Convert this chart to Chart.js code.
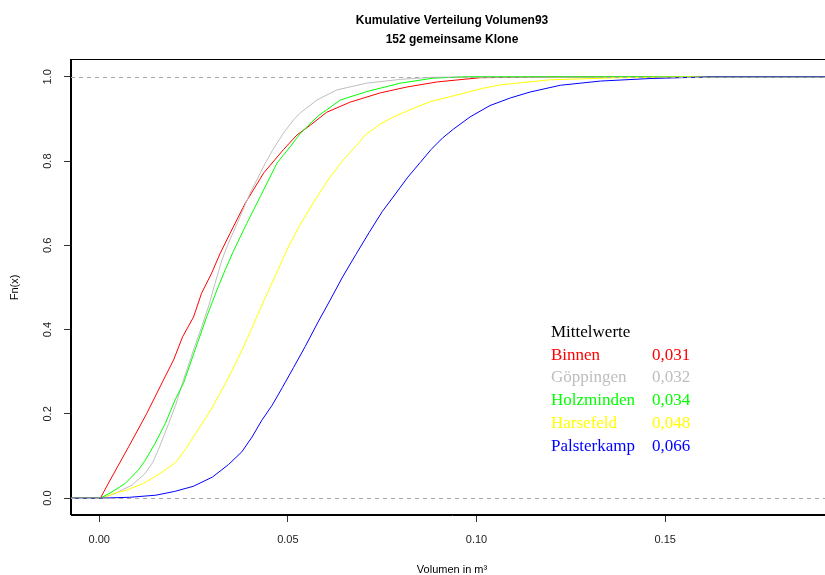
<!DOCTYPE html>
<html>
<head>
<meta charset="utf-8">
<title>Kumulative Verteilung Volumen93</title>
<script src="https://cdn.jsdelivr.net/npm/chart.js@4.4.1/dist/chart.umd.min.js"></script>
<style>
  html, body { margin: 0; padding: 0; background: #fff; overflow: hidden; }
  #wrap { width: 834px; height: 575px; }
</style>
</head>
<body>
<div id="wrap"><canvas id="ecdf" width="834" height="575"></canvas></div>
<script>
// Empirische Verteilungsfunktionen (152 gemeinsame Klone), Volumen in m³

const xTicks = [0, 0.05, 0.10, 0.15];
const xTickLabels = ['0.00', '0.05', '0.10', '0.15'];
const yTicks = [0, 0.2, 0.4, 0.6, 0.8, 1.0];
const yTickLabels = ['0.0', '0.2', '0.4', '0.6', '0.8', '1.0'];

const groups = ['Binnen', 'Göppingen', 'Holzminden', 'Harsefeld', 'Palsterkamp'];
const groupColors = ['#ff0000', '#bebebe', '#00ff00', '#ffff00', '#0000ff'];
const groupMeans = [0.031, 0.032, 0.034, 0.048, 0.066];

// Datenbereich der Achsen (R erweitert um je 4 %)
const xRange = [0, 0.187];
const yRange = [0, 1];

const binnenX = [0.0003, 0.0029, 0.0078, 0.0126, 0.0170, 0.0197, 0.0221, 0.0250, 0.0271, 0.0298, 0.0320,
  0.0347, 0.0387, 0.0436, 0.0488, 0.0524, 0.0559, 0.0603, 0.0665, 0.0745, 0.0816, 0.0896, 0.1010, 0.1220];
const binnenF = [0, 0.043, 0.122, 0.201, 0.280, 0.328, 0.383, 0.430, 0.486, 0.534, 0.580,
  0.629, 0.700, 0.772, 0.827, 0.862, 0.885, 0.916, 0.940, 0.962, 0.976, 0.988, 0.998, 1.0];

const goeppingenX = [0.0003, 0.0042, 0.0087, 0.0120, 0.0142, 0.0160, 0.0184, 0.0203, 0.0223, 0.0250, 0.0273,
  0.0290, 0.0307, 0.0325, 0.0340, 0.0367, 0.0400, 0.0440, 0.0460, 0.0488, 0.0515, 0.0535, 0.0577, 0.0630,
  0.0709, 0.0798, 0.0885, 0.0983];
const goeppingenF = [0, 0.011, 0.031, 0.057, 0.085, 0.122, 0.177, 0.222, 0.280, 0.352, 0.410,
  0.456, 0.510, 0.565, 0.600, 0.655, 0.724, 0.795, 0.827, 0.866, 0.898, 0.916, 0.945, 0.969,
  0.985, 0.994, 0.999, 1.0];

const holzmindenX = [0.0003, 0.0034, 0.0069, 0.0104, 0.0122, 0.0148, 0.0175, 0.0201, 0.0223, 0.0254, 0.0285,
  0.0312, 0.0333, 0.0355, 0.0391, 0.0427, 0.0471, 0.0506, 0.0533, 0.0580, 0.0639, 0.0709, 0.0798, 0.0886, 0.0974];
const holzmindenF = [0, 0.015, 0.035, 0.067, 0.090, 0.130, 0.177, 0.233, 0.272, 0.352, 0.431,
  0.494, 0.540, 0.585, 0.652, 0.716, 0.795, 0.834, 0.866, 0.907, 0.945, 0.965, 0.985, 0.997, 1.0];

const harsefeldX = [0.0010, 0.0038, 0.0073, 0.0117, 0.0162, 0.0204, 0.0230, 0.0256, 0.0290, 0.0318, 0.0343,
  0.0368, 0.0394, 0.0418, 0.0444, 0.0468, 0.0497, 0.0533, 0.0570, 0.0610, 0.0647, 0.0683, 0.0705, 0.0745,
  0.0780, 0.0824, 0.0877, 0.0948, 0.1018, 0.1063, 0.1195, 0.1380, 0.1590];
const harsefeldF = [0, 0.011, 0.019, 0.035, 0.059, 0.086, 0.118, 0.154, 0.201, 0.245, 0.287,
  0.332, 0.382, 0.431, 0.484, 0.530, 0.589, 0.650, 0.705, 0.760, 0.803, 0.838, 0.862, 0.888,
  0.905, 0.922, 0.941, 0.957, 0.973, 0.981, 0.993, 0.998, 1.0];

const palsterkampX = [0.0003, 0.0080, 0.0150, 0.0200, 0.0249, 0.0300, 0.0343, 0.0378, 0.0405, 0.0431, 0.0458,
  0.0485, 0.0515, 0.0546, 0.0580, 0.0612, 0.0645, 0.0680, 0.0715, 0.0750, 0.0785, 0.0818, 0.0851, 0.0880,
  0.0910, 0.0939, 0.0983, 0.1036, 0.1090, 0.1142, 0.1222, 0.1328, 0.1460, 0.1620];
const palsterkampF = [0, 0.002, 0.007, 0.016, 0.028, 0.050, 0.080, 0.110, 0.145, 0.185, 0.220,
  0.262, 0.310, 0.360, 0.418, 0.470, 0.525, 0.578, 0.630, 0.680, 0.722, 0.762, 0.797, 0.828,
  0.855, 0.876, 0.905, 0.932, 0.950, 0.964, 0.980, 0.990, 0.996, 1.0];

const seriesX = [binnenX, goeppingenX, holzmindenX, harsefeldX, palsterkampX];
const seriesF = [binnenF, goeppingenF, holzmindenF, harsefeldF, palsterkampF];

const SANS = '"Liberation Sans", Arial, Helvetica, sans-serif';
const SERIF = '"Liberation Serif", "Times New Roman", serif';

const pad = (r) => 0.04 * (r[1] - r[0]);
const xMin = xRange[0] - pad(xRange), xMax = xRange[1] + pad(xRange);
const yMin = yRange[0] - pad(yRange), yMax = yRange[1] + pad(yRange);

// ECDF läuft links bei 0 ein und rechts bei 1 aus
const datasets = groups.map((name, i) => ({
  label: name,
  data: [{ x: xMin, y: 0 }]
    .concat(seriesX[i].map((x, j) => ({ x: x, y: seriesF[i][j] })))
    .concat([{ x: xMax, y: 1 }]),
  borderColor: groupColors[i],
  borderWidth: 1,
  pointRadius: 0,
  tension: 0,
  fill: false,
  order: groups.length - i
}));

/* ── Rahmen, Hilfslinien, Titel und Mittelwerte ── */
const rPlot = {
  id: 'rPlot',
  afterDatasetsDraw(chart) {
    const { ctx, chartArea: a, scales: { y } } = chart;
    ctx.save();
    ctx.lineWidth = 1;
    ctx.strokeStyle = '#a9a9a9';
    ctx.setLineDash([4, 4]);
    [0, 1].forEach(v => {
      const py = Math.round(y.getPixelForValue(v)) + 0.5;
      ctx.beginPath();
      ctx.moveTo(a.left, py);
      ctx.lineTo(a.right, py);
      ctx.stroke();
    });
    ctx.setLineDash([]);
    ctx.strokeStyle = '#000';
    ctx.strokeRect(Math.round(a.left) - 0.5, Math.round(a.top) - 0.5,
      Math.round(a.right - a.left), Math.round(a.bottom - a.top));
    ctx.restore();
  },
  afterDraw(chart) {
    const { ctx, chartArea: a } = chart;
    const cx = (a.left + a.right) / 2;
    ctx.save();
    ctx.fillStyle = '#000';
    ctx.textAlign = 'center';
    ctx.textBaseline = 'alphabetic';
    ctx.font = 'bold 12px ' + SANS;
    ctx.fillText('Kumulative Verteilung Volumen93', cx, 24);
    ctx.fillText('152 gemeinsame Klone', cx, 42.5);

    // Mittelwerte
    const lx = 551, vx = 652, top = 337, step = 22.7;
    ctx.textAlign = 'left';
    ctx.font = '17px ' + SERIF;
    ctx.fillText('Mittelwerte', lx, top);
    groups.forEach((g, i) => {
      const by = top + step * (i + 1);
      ctx.fillStyle = groupColors[i];
      ctx.fillText(g, lx, by);
      ctx.fillText(groupMeans[i].toFixed(3).replace('.', ','), vx, by);
    });
    ctx.restore();
  }
};

new Chart(document.getElementById('ecdf'), {
  type: 'line',
  data: { datasets: datasets },
  options: {
    responsive: false,
    animation: false,
    layout: { padding: { top: 60, left: 0, right: 1, bottom: 0 } },
    plugins: {
      legend: { display: false },
      tooltip: { enabled: false },
      title: { display: false }
    },
    scales: {
      x: {
        type: 'linear',
        min: xMin,
        max: xMax,
        afterFit: s => { s.height = 60; },
        afterBuildTicks: s => { s.ticks = xTicks.map(v => ({ value: v })); },
        grid: { display: true, drawOnChartArea: false, drawTicks: true, tickLength: 7, tickColor: '#333' },
        border: { display: true, color: '#000', width: 1 },
        ticks: {
          autoSkip: false,
          maxRotation: 0,
          padding: 11,
          color: '#222',
          font: { family: SANS, size: 11 },
          callback: (v) => xTickLabels[xTicks.indexOf(v)]
        },
        title: {
          display: true,
          text: 'Volumen in m³',
          color: '#000',
          font: { family: SANS, size: 11, lineHeight: 1 },
          padding: { top: 0, bottom: 0 }
        }
      },
      y: {
        type: 'linear',
        min: yMin,
        max: yMax,
        afterFit: s => { s.width = 71; },
        afterBuildTicks: s => { s.ticks = yTicks.map(v => ({ value: v })); },
        grid: { display: true, drawOnChartArea: false, drawTicks: true, tickLength: 7, tickColor: '#333' },
        border: { display: true, color: '#000', width: 1 },
        ticks: {
          autoSkip: false,
          minRotation: 90,
          maxRotation: 90,
          crossAlign: 'center',
          padding: 8,
          color: '#222',
          font: { family: SANS, size: 11 },
          callback: (v) => yTickLabels[yTicks.indexOf(v)]
        },
        title: {
          display: true,
          text: 'Fn(x)',
          color: '#000',
          font: { family: SANS, size: 11, lineHeight: 1 },
          padding: { top: 9, bottom: 0 }
        }
      }
    }
  },
  plugins: [rPlot]
});
</script>
</body>
</html>
